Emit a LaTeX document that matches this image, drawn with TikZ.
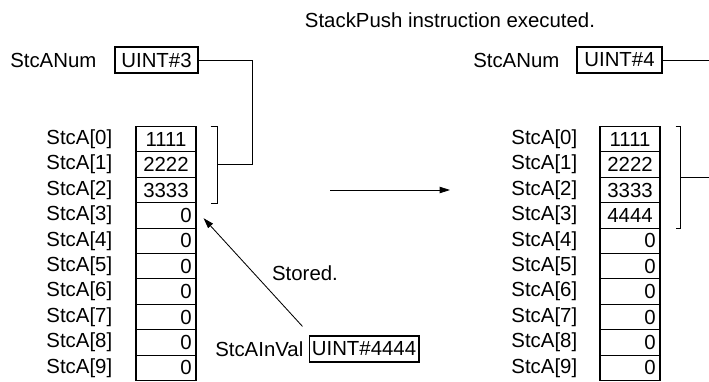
\documentclass[tikz,border=0pt]{standalone}
\usepackage{fontspec}
\setmainfont{Liberation Sans}
\usetikzlibrary{arrows.meta,calc,positioning}

\begin{document}
\begin{tikzpicture}[
    font=\fontsize{14.5}{17}\selectfont,
    cell/.style={
        draw,
        rectangle,
        line width=0.8pt,
        minimum height=0.635cm,
        inner ysep=0pt,
        inner xsep=3pt,
        text width=1.288cm
    },
    var/.style={
        inner sep=0pt
    },
    ibox/.style={
        draw,
        rectangle,
        line width=0.8pt,
        minimum height=0.65cm,
        inner sep=2pt
    },
    conn/.style={
        line width=0.6pt
    },
    arrow/.style={
        -{Triangle[length=2.6mm,width=1.6mm]},
        line width=0.6pt
    }
]
\useasboundingbox (0,0) rectangle (17.725,-9.525);

% Title
\node (title) at (11.25,-0.5) {StackPush instruction executed.};

% Before: StcANum and array
\node[var, anchor=west] (numLlab) at (0.25,-1.5) {StcANum};
\node[ibox, minimum width=2.075cm] (numL) at (3.9125,-1.5) {UINT\#3};

\foreach \a/\v [count=\i from 0] in {center/1111, center/2222, center/3333,
    right/0, right/0, right/0, right/0, right/0, right/0, right/0} {
    \node[cell, align=\a] (L\i) at (4.15,{-3.48-0.635*\i}) {\v};
    \node[var, left=0.575cm of L\i] (Llab\i) {StcA[\i]};
}

% Before: bracket over StcA[0]..StcA[2]
\draw[conn] ([xshift=0.35cm]L0.north east) -- ([xshift=0.525cm]L0.north east)
    -- ([xshift=0.525cm]L2.south east) -- ([xshift=0.35cm]L2.south east);
\coordinate (brL) at ([xshift=0.525cm]L1.east);
\draw[conn] (numL.east) -| ([xshift=1.4cm]L1.east) -- (brL);

% StcAInVal
\node[var, anchor=west] (invalLab) at (5.375,-8.725) {StcAInVal};
\node[ibox, minimum width=2.45cm] (inval) at (9.1,-8.725) {UINT\#4444};
\draw[arrow] ([shift={(-0.15,0.225)}]inval.north west) -- ([shift={(0.175,-0.07)}]L3.east);
\node (stored) at (7.625,-6.825) {Stored.};

% Push arrow
\coordinate (pushA) at (8.25,-4.75);
\coordinate (pushB) at (11.25,-4.75);
\draw[arrow] (pushA) -- (pushB);

% After: StcANum and array
\node[var, anchor=west] (numRlab) at (11.825,-1.5) {StcANum};
\node[ibox, minimum width=2.125cm] (numR) at (15.4875,-1.5) {UINT\#4};

\foreach \a/\v [count=\i from 0] in {center/1111, center/2222, center/3333,
    center/4444, right/0, right/0, right/0, right/0, right/0, right/0} {
    \node[cell, align=\a] (R\i) at (15.75,{-3.48-0.635*\i}) {\v};
    \node[var, left=0.55cm of R\i] (Rlab\i) {StcA[\i]};
}

% After: bracket over StcA[0]..StcA[3]
\draw[conn] ([xshift=0.375cm]R0.north east) -- ([xshift=0.5cm]R0.north east)
    -- ([xshift=0.5cm]R3.south east) -- ([xshift=0.375cm]R3.south east);
\coordinate (brR) at ($([xshift=0.5cm]R0.north east)!0.5!([xshift=0.5cm]R3.south east)$);
\coordinate (edge) at (17.725,0);
\draw[conn] (brR) -- (brR -| edge);
\draw[conn] (numR.east) -- (numR.east -| edge);

\end{tikzpicture}
\end{document}
